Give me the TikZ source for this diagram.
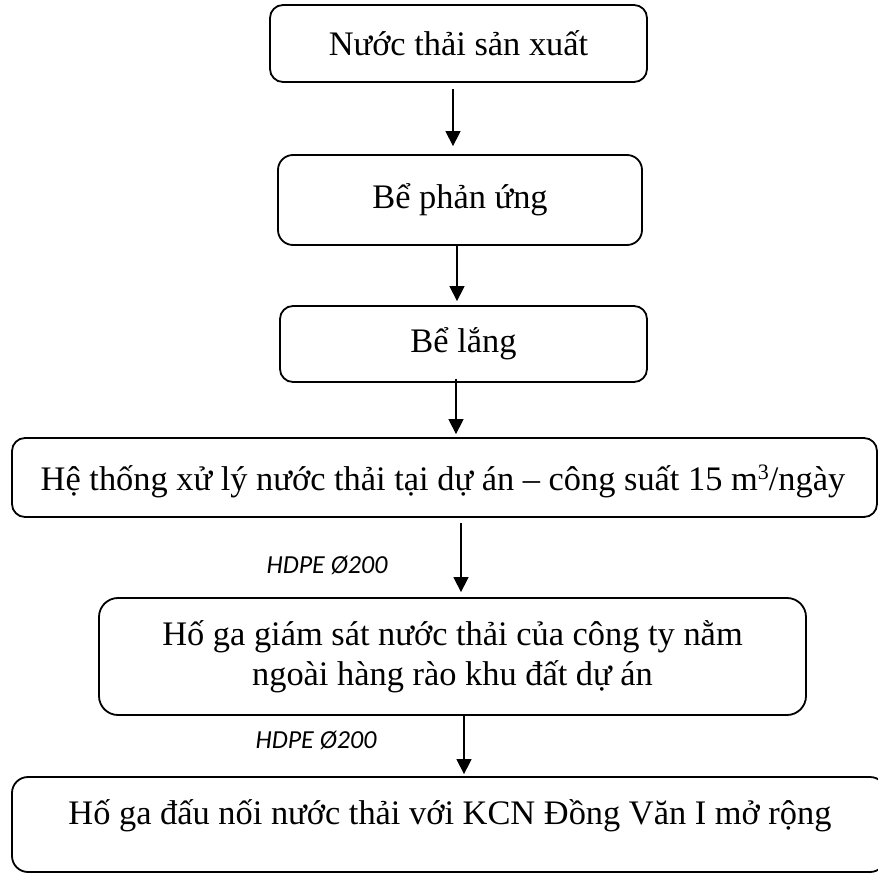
\documentclass[tikz,border=0pt]{standalone}
\usepackage{fontspec}
\setmainfont{Liberation Serif}
\newfontfamily\pipefont{Carlito}
\usetikzlibrary{arrows.meta}

\newcommand{\cubed}{{\fontsize{22}{22}\selectfont\raisebox{11pt}{3}}}

\begin{document}
\begin{tikzpicture}[x=1pt, y=-1pt,
  stepbox/.style={draw, line width=1.8pt, rounded corners=#1, inner sep=0pt,
    align=center, font=\fontsize{34.4}{40}\selectfont},
  stepbox/.default=13pt,
  boxtext/.style={font=\fontsize{34.4}{40}\selectfont, inner sep=0pt},
  flow/.style={line width=1.4pt, -{Triangle[width=15pt, length=15pt]}},
  pipe/.style={font=\pipefont\itshape\fontsize{26}{30}\selectfont}
]
\useasboundingbox (0,0) rectangle (878,874);
\clip (0,0) rectangle (878,874);

% process steps
\node[stepbox, minimum width=377pt, minimum height=77pt] (b1) at (458.5,43.5) {Nước thải sản xuất};
\node[stepbox=15pt, minimum width=364pt, minimum height=90pt] (b2) at (460,200) {Bể phản ứng};
\node[stepbox, minimum width=367pt, minimum height=76pt] (b3) at (463.5,344) {Bể lắng};
\node[stepbox, minimum width=865pt, minimum height=79pt] (b4) at (444.5,477.5) {};
\node[boxtext] (t4) at (443,481) {Hệ thống xử lý nước thải tại dự án – công suất 15 m\cubed/ngày};
\node[stepbox=19pt, minimum width=707pt, minimum height=117pt] (b5) at (452.5,656.5)
  {Hố ga giám sát nước thải của công ty nằm\\ngoài hàng rào khu đất dự án};
\node[stepbox=16pt, minimum width=874pt, minimum height=95pt] (b6) at (449,824.5) {};
\node[boxtext] (t6) at (450,816) {Hố ga đấu nối nước thải với KCN Đồng Văn I mở rộng};

% connector columns
\coordinate (c1) at (453,0);
\coordinate (c2) at (457,0);
\coordinate (c3) at (456,0);
\coordinate (c4) at (461,0);
\coordinate (c5) at (464,0);

% flow arrows
\draw[flow, shorten <=6pt, shorten >=8pt] (b1.south -| c1) -- (b2.north -| c1);
\draw[flow, shorten >=4pt] (b2.south -| c2) -- (b3.north -| c2);
\draw[flow, shorten <=-4pt, shorten >=3pt] (b3.south -| c3) -- (b4.north -| c3);
\draw[flow, shorten <=5pt, shorten >=5pt] (b4.south -| c4) -- (b5.north -| c4);
\draw[flow, shorten >=2pt] (b5.south -| c5) -- (b6.north -| c5);

% pipe labels
\node[pipe] (p1) at (327,565) {HDPE Ø200};
\node[pipe] (p2) at (316,740) {HDPE Ø200};
\end{tikzpicture}
\end{document}
